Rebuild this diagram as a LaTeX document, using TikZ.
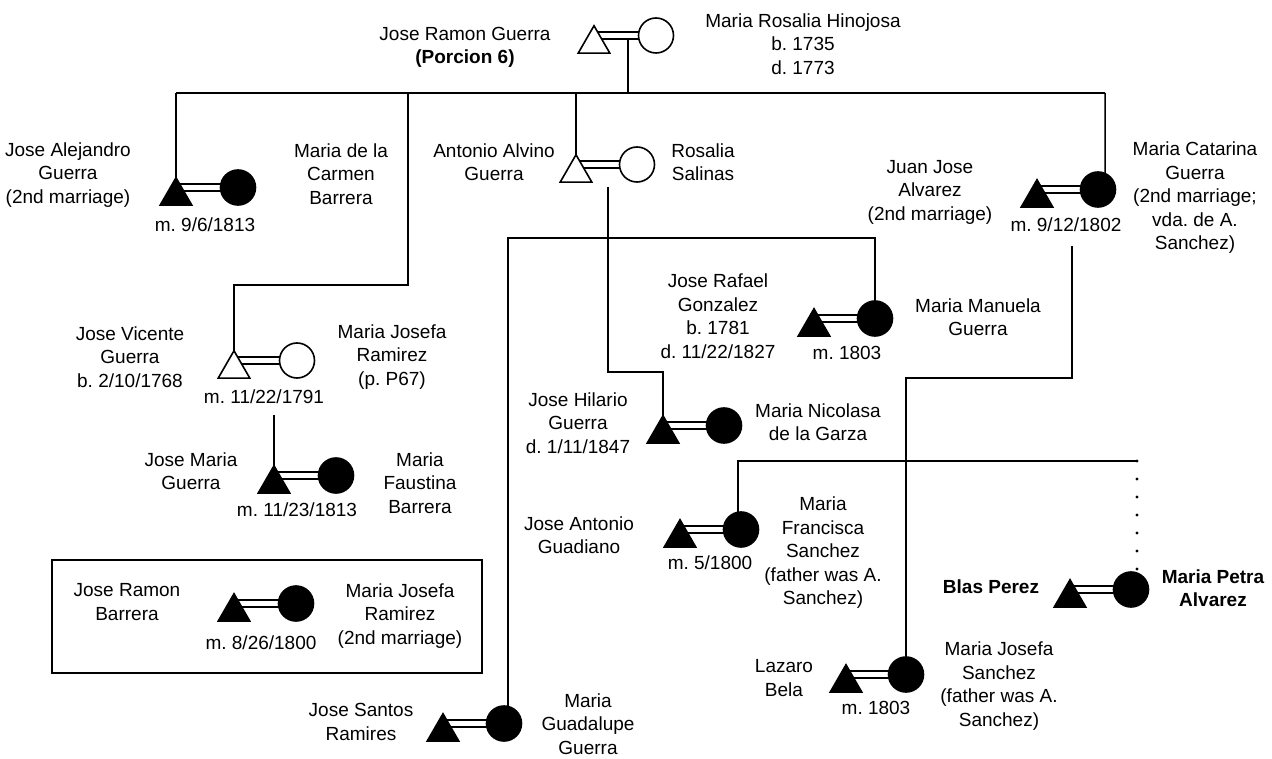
\documentclass[tikz,border=0pt]{standalone}
\usepackage{fontspec}
\setmainfont{Liberation Sans}
\usetikzlibrary{shapes.geometric,backgrounds}
\tikzset{
  lbl/.style={align=center, font=\fontsize{19}{23.5}\selectfont\frenchspacing, inner sep=0pt},
  blbl/.style={lbl, font=\fontsize{19}{23.5}\selectfont\frenchspacing\bfseries},
  tri/.style={regular polygon, regular polygon sides=3, minimum size=36.5pt, inner sep=0pt, outer sep=0pt, draw=black, line width=1.6pt},
  otri/.style={tri, fill=white},
  ftri/.style={tri, fill=black},
  circ/.style={circle, minimum size=35pt, inner sep=0pt, outer sep=0pt, draw=black, line width=1.6pt},
  ocirc/.style={circ, fill=white},
  fcirc/.style={circ, fill=black},
  dbl/.style={draw=black, line width=1.6pt, double=white, double distance=5.5pt},
  link/.style={draw=black, line width=1.5pt},
  dots/.style={draw=black, line width=3.2pt, line cap=round, dash pattern=on 0pt off 18pt},
  framebox/.style={draw=black, line width=1.8pt, inner sep=0pt, outer sep=0pt}
}
\begin{document}
\begin{tikzpicture}[x=1pt, y=-1pt]
\useasboundingbox (0,0) rectangle (1272,759);

% ---------- symbols ----------
\node[otri]  (t1)  at (594,44)    {};
\node[ocirc] (c1)  at (656,35.5)  {};
\node[ftri]  (t2)  at (176,196)   {};
\node[fcirc] (c2)  at (238,187.5) {};
\node[otri]  (t3)  at (576,173)   {};
\node[ocirc] (c3)  at (637,164.5) {};
\node[ftri]  (t4)  at (1037,198)  {};
\node[fcirc] (c4)  at (1098,189.5){};
\node[ftri]  (t5)  at (814,327)   {};
\node[fcirc] (c5)  at (875,318.5) {};
\node[otri]  (t6)  at (234,369)   {};
\node[ocirc] (c6)  at (297,360.5) {};
\node[ftri]  (t7)  at (274,484)   {};
\node[fcirc] (c7)  at (336,475.5) {};
\node[ftri]  (t8)  at (663,434)   {};
\node[fcirc] (c8)  at (724,425.5) {};
\node[ftri]  (t9)  at (234,612)   {};
\node[fcirc] (c9)  at (296,603.5) {};
\node[ftri]  (t10) at (443,732)   {};
\node[fcirc] (c10) at (504,723.5) {};
\node[ftri]  (t11) at (680,538)   {};
\node[fcirc] (c11) at (741,529.5) {};
\node[ftri]  (t12) at (1070,598)  {};
\node[fcirc] (c12) at (1131,589.5){};
\node[ftri]  (t13) at (846,683)   {};
\node[fcirc] (c13) at (906,674.5) {};

% ---------- frame ----------
\node[framebox, minimum width=430pt, minimum height=113pt] (box) at (267,616.5) {};

% ---------- labels ----------
\node[lbl] (l1a) at (465,47.5) {Jose Ramon Guerra\\\textbf{(Porcion 6)}};
\node[lbl] (l1b) at (803,44) {Maria Rosalia Hinojosa\\b. 1735\\d. 1773};
\node[lbl] (l2a) at (68,175) {Jose Alejandro\\Guerra\\(2nd marriage)};
\node[lbl] (l2m) at (205,225) {m. 9/6/1813};
\node[lbl] (l2b) at (341,174) {Maria de la\\Carmen\\Barrera};
\node[lbl] (l3a) at (494,162) {Antonio Alvino\\Guerra};
\node[lbl] (l3b) at (703,162) {Rosalia\\Salinas};
\node[lbl] (l4a) at (930,192) {Juan Jose\\Alvarez\\(2nd marriage)};
\node[lbl] (l4m) at (1066,225) {m. 9/12/1802};
\node[lbl] (l4b) at (1195,198) {Maria Catarina\\Guerra\\(2nd marriage;\\vda. de A.\\Sanchez)};
\node[lbl] (l5a) at (718,316) {Jose Rafael\\Gonzalez\\b. 1781\\d. 11/22/1827};
\node[lbl] (l5m) at (847,353) {m. 1803};
\node[lbl] (l5b) at (978,317) {Maria Manuela\\Guerra};
\node[lbl] (l6a) at (130,357) {Jose Vicente\\Guerra\\b. 2/10/1768};
\node[lbl] (l6m) at (264,397) {m. 11/22/1791};
\node[lbl] (l6b) at (392,357) {Maria Josefa\\Ramirez\\(p. P67)};
\node[lbl] (l8a) at (578,423) {Jose Hilario\\Guerra\\d. 1/11/1847};
\node[lbl] (l8b) at (818,422) {Maria Nicolasa\\de la Garza};
\node[lbl] (l7a) at (191,471) {Jose Maria\\Guerra};
\node[lbl] (l7m) at (297,510) {m. 11/23/1813};
\node[lbl] (l7b) at (420,483) {Maria\\Faustina\\Barrera};
\node[lbl] (l11a) at (579,535) {Jose Antonio\\Guadiano};
\node[lbl] (l11m) at (710,563) {m. 5/1800};
\node[lbl] (l11b) at (823,553) {Maria\\Francisca\\Sanchez\\(father was A.\\Sanchez)};
\node[blbl] (l12a) at (991,587) {Blas Perez};
\node[blbl] (l12b) at (1213,588) {Maria Petra\\Alvarez};
\node[lbl] (l9a) at (127,602) {Jose Ramon\\Barrera};
\node[lbl] (l9m) at (261,643) {m. 8/26/1800};
\node[lbl] (l9b) at (400,616) {Maria Josefa\\Ramirez\\(2nd marriage)};
\node[lbl] (l13a) at (784,678) {Lazaro\\Bela};
\node[lbl] (l13m) at (876,708) {m. 1803};
\node[lbl] (l13b) at (999,686) {Maria Josefa\\Sanchez\\(father was A.\\Sanchez)};
\node[lbl] (l10a) at (361,722) {Jose Santos\\Ramires};
\node[lbl] (l10b) at (588,724) {Maria\\Guadalupe\\Guerra};

% ---------- connector coordinates ----------
\coordinate (dc1)  at (628,40);
\coordinate (barL) at (176,93);
\coordinate (barR) at (1105,93);
\coordinate (k1)   at (408,93);
\coordinate (k3)   at (408,285);
\coordinate (d3)   at (608,187);
\coordinate (d3b)  at (608,372);
\coordinate (s1L)  at (508,238);
\coordinate (d6)   at (274,415);
\coordinate (d4)   at (1072,246);
\coordinate (d4b)  at (1072,378);
\coordinate (s2R)  at (1137,461);

\begin{pgfonlayer}{background}
  % marriages
  \foreach \i in {1,...,13} {
    \draw[dbl] (t\i.center |- c\i.center) -- (c\i.center);
  }
  % descent from top couple
  \draw[link] (dc1) -- (dc1 |- barL);
  \draw[link] (barL) -- (barR);
  \draw[link] (barL) -- (t2.corner 1);
  \draw[link] (t3.corner 1 |- barL) -- (t3.corner 1);
  \draw[link] (barR) -- (c4.66);
  \draw[link] (k1) -- (k3) -| (t6.corner 1);
  % Antonio Alvino's children
  \draw[link] (d3) -- (d3b) -| (t8.corner 1);
  \draw[link] (c10.77) -- (c10.77 |- s1L) -| (c5.north);
  % Jose Vicente's son
  \draw[link] (d6) -- (t7.corner 1);
  % Maria Catarina's children
  \draw[link] (d4) -- (d4b) -| (c13.north);
  \draw[link] (c11.100) -- (c11.100 |- s2R) -- (s2R);
  \draw[dots] (s2R) -- (c12.70);
\end{pgfonlayer}
\end{tikzpicture}
\end{document}
